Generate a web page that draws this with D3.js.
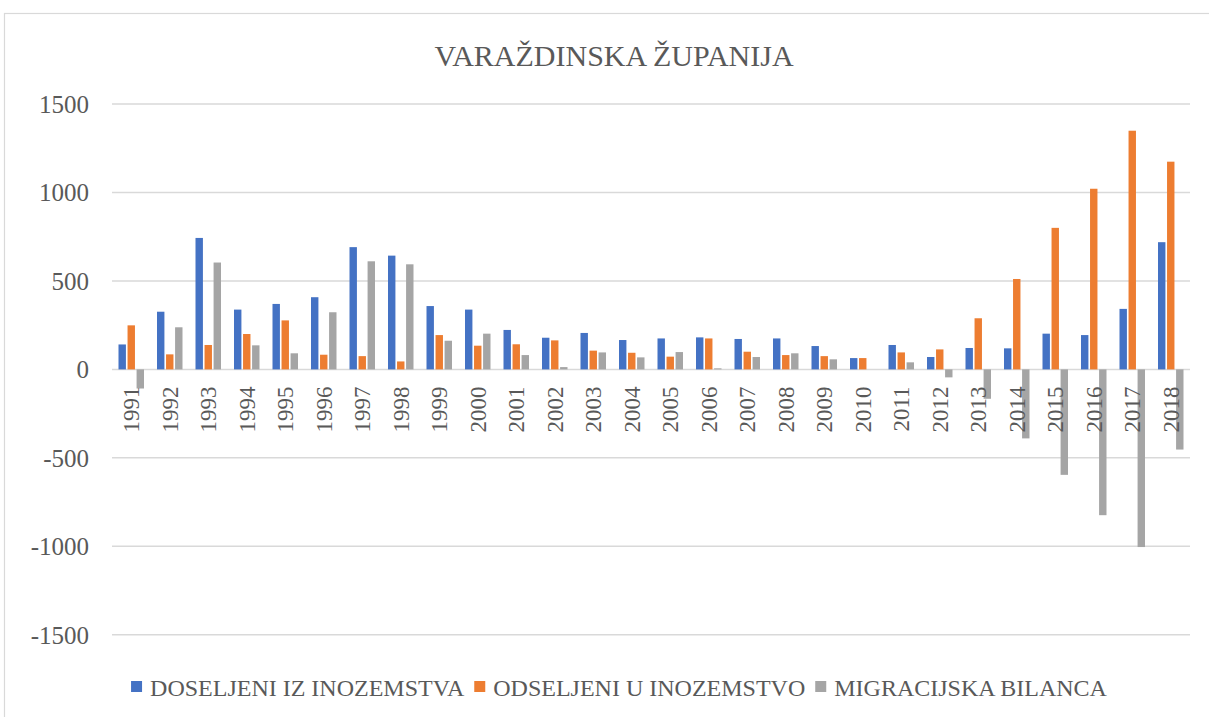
<!DOCTYPE html>
<html><head><meta charset="utf-8">
<script src="https://cdn.jsdelivr.net/npm/d3@7"></script>
<style>
html,body{margin:0;padding:0;background:#fff;}
</style></head>
<body>
<svg id="chart" width="1209" height="717"></svg>
<script>
const years = ["1991","1992","1993","1994","1995","1996","1997","1998","1999","2000","2001","2002","2003","2004","2005","2006","2007","2008","2009","2010","2011","2012","2013","2014","2015","2016","2017","2018"];
const doseljeni = [141,326,743,338,370,408,691,643,358,338,223,179,206,166,175,181,172,175,132,64,138,70,121,119,202,194,342,719];
const odseljeni = [249,85,138,200,277,83,75,45,194,134,142,164,106,94,72,175,100,81,75,64,96,113,289,511,800,1021,1349,1174];
const bilanca = [-108,238,604,136,91,323,611,594,162,202,81,13,96,68,98,6,70,91,57,0,40,-45,-166,-390,-596,-824,-1004,-453];
const seriesNames = ["DOSELJENI IZ INOZEMSTVA","ODSELJENI U INOZEMSTVO","MIGRACIJSKA BILANCA"];
const seriesColors = ["#4472C4","#ED7D31","#A5A5A5"];
const yTicks = [-1500,-1000,-500,0,500,1000,1500];
const title = "VARAŽDINSKA ŽUPANIJA";

const TXT = "#595959";
const FONT = '"Liberation Serif", serif';
const svg = d3.select("#chart");
const seriesData = [doseljeni, odseljeni, bilanca];

svg.append("rect").attr("x",4.5).attr("y",13.5).attr("width",1240).attr("height",740)
  .attr("fill","none").attr("stroke","#d9d9d9").attr("stroke-width",1.2);

const x0 = d3.scaleBand().domain(years).range([112,1190]);
const x1 = d3.scaleBand().domain(d3.range(3)).range([-12.75,12.75]).paddingInner(0.18);
const y = d3.scaleLinear().domain([-1500,1500]).range([634.8,104]);

svg.append("g").selectAll("line").data(yTicks).join("line")
  .attr("x1",112).attr("x2",1190)
  .attr("y1",d=>y(d)).attr("y2",d=>y(d))
  .attr("stroke","#d9d9d9").attr("stroke-width",1.5);

// y labels
svg.append("g").selectAll("text").data(yTicks).join("text")
  .attr("x",89).attr("y",d=>y(d)).attr("dy","0.35em").attr("text-anchor","end")
  .attr("font-size",25).attr("fill",TXT).style("font-family",FONT)
  .text(d=>String(d));

// bars
const groups = svg.append("g").selectAll("g").data(years).join("g")
  .attr("transform",d=>`translate(${x0(d)+x0.bandwidth()/2},0)`);
groups.selectAll("rect").data((d,i)=>seriesData.map((s,k)=>({k,v:s[i]}))).join("rect")
  .attr("x",d=>x1(d.k)).attr("width",x1.bandwidth())
  .attr("y",d=>y(Math.max(0,d.v))).attr("height",d=>Math.abs(y(d.v)-y(0)))
  .attr("fill",d=>seriesColors[d.k]);

// x labels rotated
svg.append("g").selectAll("text").data(years).join("text")
  .attr("transform",d=>`translate(${x0(d)+x0.bandwidth()/2},${y(0)+17}) rotate(-90)`)
  .attr("text-anchor","end").attr("dy","0.35em")
  .attr("font-size",23).attr("fill",TXT).style("font-family",FONT)
  .text(d=>d);

// title
svg.append("text").attr("x",614).attr("y",66).attr("text-anchor","middle")
  .attr("font-size",30).attr("fill",TXT).style("font-family",FONT).text(title);

// legend (centered, laid out from measured text widths)
const items = svg.append("g").selectAll("g").data(seriesNames).join("g");
items.append("rect").attr("width",11).attr("height",11).attr("y",-15)
  .attr("fill",(d,i)=>seriesColors[i]);
items.append("text").attr("x",19).attr("y",0).attr("font-size",24).attr("fill",TXT)
  .style("font-family",FONT).text(d=>d);
const widths = [];
items.each(function(){ widths.push(19 + this.querySelector("text").getComputedTextLength()); });
const gap = 10;
const total = d3.sum(widths) + gap*(widths.length-1);
let start = 619 - total/2;
items.attr("transform",(d,i)=>{ const t=`translate(${start},696)`; start += widths[i]+gap; return t; });
</script>
</body></html>
